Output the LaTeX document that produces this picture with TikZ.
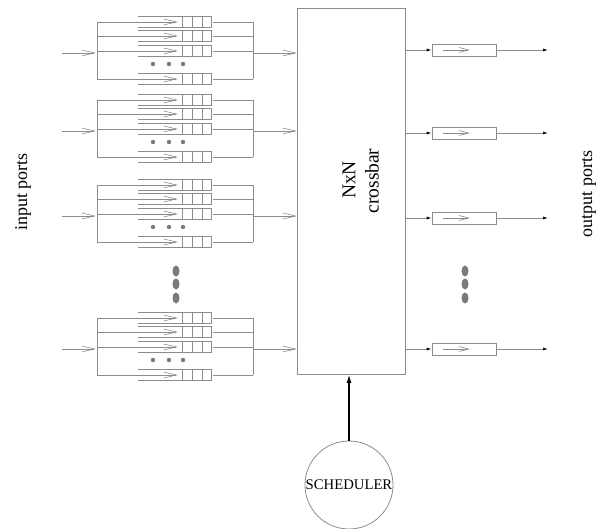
\documentclass[tikz,border=0pt]{standalone}
\usepackage{fontspec}
\setmainfont{Liberation Serif}
\usetikzlibrary{arrows.meta}
\definecolor{ln}{HTML}{8C8C8C}
\definecolor{dotc}{HTML}{7A7A7A}
\tikzset{
  gline/.style={draw=ln, line width=0.8pt},
  chev/.style={-{Straight Barb[length=13pt,width=6pt,line width=0.6pt]}},
  schev/.style={-{Straight Barb[length=10pt,width=5pt,line width=0.6pt]}},
  smallhead/.style={-{Latex[length=5pt,width=3pt,color=black]}},
  qdot/.style={fill=dotc, draw=none},
  lbl/.style={font=\fontsize{18}{20}\selectfont, rotate=90, inner sep=0},
  xlbl/.style={font=\fontsize{19.5}{21}\selectfont, rotate=90, inner sep=0},
  oqbox/.style={draw=ln, line width=0.8pt, minimum width=64pt, minimum height=12pt, inner sep=0},
}
\begin{document}
\begin{tikzpicture}[x=1pt,y=-1pt]
\useasboundingbox (0,0) rectangle (599,529);

% crossbar
\node[draw=ln, line width=0.9pt, minimum width=108pt, minimum height=366pt, inner sep=0, anchor=north west] (xbar) at (297,8) {};
\node[xlbl] (nxn) at (349,180) {NxN};
\node[xlbl] (cb) at (372,181) {crossbar};

% scheduler
\node[circle, draw=ln, line width=0.8pt, minimum size=88pt, inner sep=0] (sched) at (349,485) {};
\node[font=\fontsize{14.7}{16}\selectfont, inner sep=0] (schedtxt) at (sched) {SCHEDULER};
\draw[black, line width=1.1pt, -{Latex[length=8pt,width=5pt]}] (sched.north) -- (sched.north |- xbar.south);

% input groups
\foreach \g/\y in {1/53,2/131,3/216,4/349}{
  \coordinate (in\g) at (62,\y);
  \coordinate (bl\g) at (96,\y);
  \coordinate (br\g) at (253,\y);
  \draw[gline, chev] (in\g) -- (bl\g);
  \draw[gline] (97,\y-31) -- (97,\y+26);
  \draw[gline] (253,\y-31) -- (253,\y+26);
  \draw[gline, chev] (br\g) -- (br\g -| xbar.west);
  \foreach \r/\o in {1/-31,2/-17,3/-2,4/26}{
    \pgfmathsetmacro\ry{\y+\o}
    \draw[gline, chev] (97,\ry) -- (178,\ry);
    \draw[gline] (138,\ry-5.5) -- (211,\ry-5.5) -- (211,\ry+5.5) -- (138,\ry+5.5);
    \draw[gline] (182,\ry-5.5) -- (182,\ry+5.5) (192,\ry-5.5) -- (192,\ry+5.5) (202,\ry-5.5) -- (202,\ry+5.5);
    \draw[gline] (213,\ry) -- (253,\ry);
  }
  \foreach \dx in {153,169,183}{
    \fill[qdot] (\dx,\y+11) circle (2.2pt);
  }
}

% vertical dots
\foreach \dy in {271,284,298}{
  \fill[qdot] (176,\dy) ellipse (3.5pt and 5.5pt);
  \fill[qdot] (465,\dy) ellipse (3.5pt and 5.5pt);
}

% output queues
\foreach \k/\y in {1/50,2/133,3/218,4/349}{
  \node[oqbox] (oq\k) at (464,\y) {};
  \coordinate (out\k) at (548,\y);
  \draw[gline, smallhead] (oq\k -| xbar.east) -- (oq\k.west);
  \draw[gline, schev] (443,\y) -- (470,\y);
  \draw[gline, smallhead] (oq\k.east) -- (out\k);
}

% labels
\node[lbl] (inlbl) at (23,192) {input ports};
\node[lbl] (outlbl) at (589,194) {output ports};
\end{tikzpicture}
\end{document}
